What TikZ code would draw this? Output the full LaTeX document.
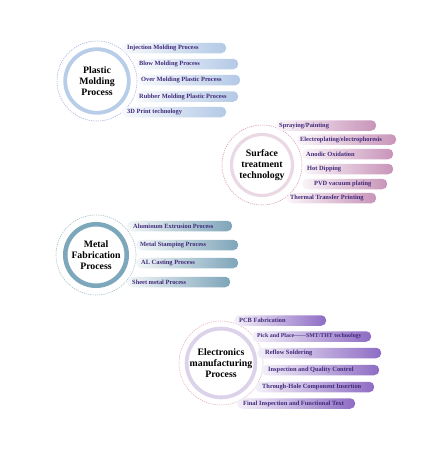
\documentclass[tikz,border=0pt]{standalone}
\usepackage{fontspec}
\setmainfont{Liberation Serif}
\definecolor{bartxt}{HTML}{40297A}
\definecolor{pbar}{HTML}{B3C9E6}
\definecolor{sbar}{HTML}{C894B9}
\definecolor{mbar}{HTML}{7EA5B9}
\definecolor{ebar}{HTML}{8E6CC4}
\definecolor{pring}{HTML}{B7CDE8}
\definecolor{sring}{HTML}{EAD8E4}
\definecolor{mring}{HTML}{7DA7BB}
\definecolor{ering}{HTML}{DCD2EA}
\definecolor{pdash}{HTML}{AAB4DC}
\definecolor{sdash}{HTML}{D9A0B8}
\definecolor{mdash}{HTML}{A4BFCC}
\definecolor{edash}{HTML}{E8B0C0}
\tikzset{
  barbox/.style={rounded corners=5pt, minimum height=10.5pt, inner sep=0pt, anchor=west},
  bartext/.style={font=\bfseries\fontsize{6.4}{7}\selectfont, text=bartxt, anchor=west, inner sep=0pt},
  ringnode/.style={circle, draw=#1, line width=3.8pt, fill=white, inner sep=0pt,
    font=\bfseries\fontsize{9.8}{11}\selectfont, align=center},
  dashring/.style={circle, draw=#1, dash pattern=on 1.2pt off 1pt, line width=0.6pt, inner sep=0pt},
}
\newcommand\barItem[7]{%
  \node[barbox, left color=#7!10, right color=#7, minimum width={(#3-#2)*1pt}] (#1) at (#2,#4) {};
  \node[bartext] (#1t) at (#5,#4) {#6};
}
\begin{document}
\begin{tikzpicture}[x=1pt,y=-1pt]
\useasboundingbox[fill=white] (0,0) rectangle (441,453);
% dashed circles
\node[dashring=pdash, minimum size=80pt] (pd) at (97,81) {};
\node[dashring=sdash, minimum size=80pt] (sd) at (262,165) {};
\node[dashring=mdash, minimum size=80pt] (md) at (96,255) {};
\node[dashring=edash, minimum size=84pt] (ed) at (221,363) {};
% plastic bars
\barItem{p1}{122}{226}{48}{127}{Injection Molding Process}{pbar}
\barItem{p2}{136}{238}{64}{139}{Blow Molding Process}{pbar}
\barItem{p3}{138}{240}{80}{141}{Over Molding Plastic Process}{pbar}
\barItem{p4}{136}{238}{96.5}{139}{Rubber Molding Plastic Process}{pbar}
\barItem{p5}{122}{226}{112}{127}{3D Print technology}{pbar}
% surface bars
\barItem{s1}{276}{376}{125.5}{279}{Spraying/Painting}{sbar}
\barItem{s2}{297}{396}{139.5}{300}{Electroplating/electrophoresis}{sbar}
\barItem{s3}{302}{393}{154}{306}{Anodic Oxidation}{sbar}
\barItem{s4}{304}{393}{169}{307}{Hot Dipping}{sbar}
\barItem{s5}{302}{387}{184}{314}{PVD vacuum plating}{sbar}
\barItem{s6}{287}{376}{198}{290}{Thermal Transfer Printing}{sbar}
% metal bars
\barItem{m1}{127}{232}{226}{133}{Aluminum Extrusion Process}{mbar}
\barItem{m2}{136}{238}{245}{140}{Metal Stamping Process}{mbar}
\barItem{m3}{136}{238}{263}{141}{AL Casting Process}{mbar}
\barItem{m4}{127}{230}{282}{132}{Sheet metal Process}{mbar}
% electronics bars
\barItem{e1}{234}{326}{320.5}{239}{PCB Fabrication}{ebar}
\barItem{e2}{252}{371}{336.5}{257}{\fontsize{5.9}{6}\selectfont Pick and Place——SMT/THT technology}{ebar}
\barItem{e3}{257}{381}{353}{265}{Reflow Soldering}{ebar}
\barItem{e4}{261}{379}{370}{268}{Inspection and Quality Control}{ebar}
\barItem{e5}{255}{374}{387}{262}{Through-Hole Component Insertion}{ebar}
\barItem{e6}{237}{355}{403.5}{243}{Final Inspection and Functional Text}{ebar}
% rings
\node[ringnode=pring, minimum size=63.6pt] (pc) at (97,81) {Plastic\\Molding\\Process};
\node[ringnode=sring, minimum size=61pt, line width=3.2pt] (sc) at (262,165) {Surface\\treatment\\technology};
\node[ringnode=mring, minimum size=61.5pt, line width=4.5pt] (mc) at (96,255) {Metal\\Fabrication\\Process};
\node[ringnode=ering, minimum size=66.5pt] (ec) at (221,363) {Electronics\\manufacturing\\Process};
\end{tikzpicture}
\end{document}
